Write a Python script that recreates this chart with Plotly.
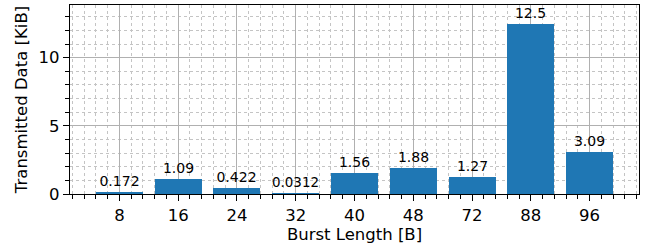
import plotly.graph_objects as go

categories = ["8", "16", "24", "32", "40", "48", "72", "88", "96"]
values = [0.172, 1.09, 0.422, 0.0312, 1.56, 1.88, 1.27, 12.5, 3.09]
labels = ["0.172", "1.09", "0.422", "0.0312", "1.56", "1.88", "1.27", "12.5", "3.09"]
y_ticks = [0, 5, 10]

xpos = list(range(len(categories)))
FONT = "DejaVu Sans"

fig = go.Figure(go.Bar(
    x=xpos, y=values, width=0.8,
    marker=dict(color="#1f77b4", line=dict(width=0)),
    text=labels, textposition="outside", cliponaxis=False,
    textfont=dict(family=FONT, size=14, color="black"),
))

axis_common = dict(
    showline=True, linecolor="black", linewidth=1.2, mirror=True,
    ticks="outside", ticklen=6, tickwidth=1.2, tickcolor="black",
    showgrid=True, gridcolor="#b0b0b0", gridwidth=1.2,
    zeroline=False, automargin=False,
    tickfont=dict(family=FONT, size=16.5, color="black"),
)

fig.update_layout(
    width=647, height=251,
    margin=dict(l=70, r=8, t=5, b=57),
    plot_bgcolor="white", paper_bgcolor="white",
    showlegend=False,
    bargap=0,
    uniformtext=dict(mode=False),
    xaxis=dict(
        **axis_common,
        range=[-0.84, 8.84],
        tickmode="array", tickvals=xpos, ticktext=categories,
        minor=dict(dtick=0.2, tick0=0, ticks="outside", ticklen=3.5, tickcolor="black",
                   showgrid=True, gridcolor="#c4c4c4", griddash="dot", gridwidth=1),
        title=dict(text="Burst Length [B]", font=dict(family=FONT, size=16.5, color="black"), standoff=4),
    ),
    yaxis=dict(
        **axis_common,
        range=[0, 13.86],
        tickmode="array", tickvals=y_ticks,
        minor=dict(dtick=1, tick0=0, ticks="outside", ticklen=3.5, tickcolor="black",
                   showgrid=True, gridcolor="#c4c4c4", griddash="dot", gridwidth=1),
        title=dict(text="Transmitted Data [KiB]", font=dict(family=FONT, size=16.5, color="black"), standoff=6),
    ),
)

fig.write_html("out.html", config={"displayModeBar": False},
               post_script="document.body.style.margin='0';")
